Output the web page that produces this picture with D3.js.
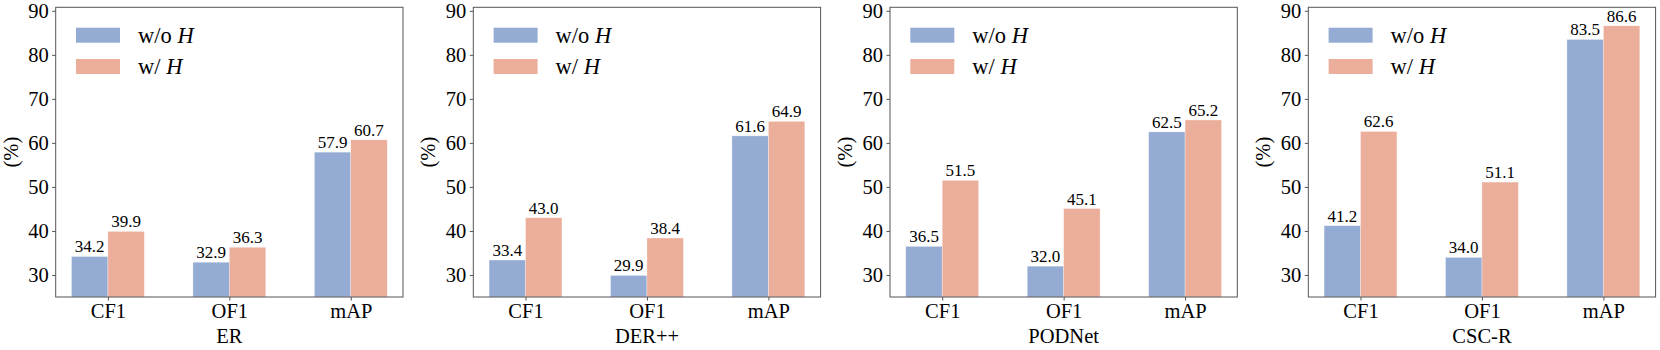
<!DOCTYPE html>
<html>
<head>
<meta charset="utf-8">
<script src="https://cdn.jsdelivr.net/npm/d3@7"></script>
<style>
  body { margin: 0; background: #fff; }
</style>
</head>
<body>
<div id="chart"></div>
<script>
const metrics = ["CF1", "OF1", "mAP"];
const methods = ["ER", "DER++", "PODNet", "CSC-R"];
const withoutH = [
  [34.2, 32.9, 57.9],
  [33.4, 29.9, 61.6],
  [36.5, 32.0, 62.5],
  [41.2, 34.0, 83.5]
];
const withH = [
  [39.9, 36.3, 60.7],
  [43.0, 38.4, 64.9],
  [51.5, 45.1, 65.2],
  [62.6, 51.1, 86.6]
];
const yTicks = [30, 40, 50, 60, 70, 80, 90];
const seriesNames = ["w/o ", "w/ "];
const colors = ["#94acd3", "#ebae9b"];
const serif = '"Liberation Serif", "Times New Roman", serif';

const svg = d3.select('#chart')
  .append('svg')
  .attr('width', 1660)
  .attr('height', 350)
  .style('font-family', serif);

const panelLeft = [55.7, 473.3, 890, 1308.3];
const panelW = 347.3;
const plotTop = 7.3, plotBottom = 297;

methods.forEach((name, p) => {
  const g = svg.append('g').attr('transform', `translate(${panelLeft[p]},0)`);

  // categories at 0,1,2, bar width 0.3, 5% margin like matplotlib
  const x = d3.scaleLinear().domain([-0.43, 2.43]).range([0, panelW]);
  const y = d3.scaleLinear().domain([25, 90.8]).range([plotBottom, plotTop]);
  const bw = x(0.3) - x(0);

  const series = [withoutH[p], withH[p]];
  series.forEach((vals, s) => {
    g.selectAll(null)
      .data(vals)
      .enter()
      .append('rect')
      .attr('x', (d, i) => x(i) + (s === 0 ? -bw : 0))
      .attr('y', d => y(d))
      .attr('width', bw)
      .attr('height', d => y(25) - y(d))
      .attr('fill', colors[s])
      .attr('stroke', '#fff')
      .attr('stroke-opacity', 0.5)
      .attr('stroke-width', 0.6);

    g.selectAll(null)
      .data(vals)
      .enter()
      .append('text')
      .attr('x', (d, i) => x(i) + (s === 0 ? -bw / 2 : bw / 2))
      .attr('y', d => y(d) - 4)
      .attr('text-anchor', 'middle')
      .style('font-family', serif)
      .style('font-size', '17px')
      .text(d => d.toFixed(1));
  });

  // frame
  g.append('rect')
    .attr('x', 0).attr('y', plotTop)
    .attr('width', panelW).attr('height', plotBottom - plotTop)
    .attr('fill', 'none')
    .attr('stroke', '#555')
    .attr('stroke-width', 1);

  // y axis
  const yAxis = g.append('g')
    .call(d3.axisLeft(y).tickValues(yTicks).tickSize(3.5).tickPadding(3.5));
  yAxis.select('.domain').remove();
  yAxis.selectAll('line').attr('stroke', '#555');
  yAxis.selectAll('text').style('font-family', serif).style('font-size', '20.5px').attr('fill', '#000');

  // x axis
  const xAxis = g.append('g')
    .attr('transform', `translate(0,${plotBottom})`)
    .call(d3.axisBottom(x).tickValues([0, 1, 2]).tickFormat(i => metrics[i]).tickSize(3.5).tickPadding(3));
  xAxis.select('.domain').remove();
  xAxis.selectAll('line').attr('stroke', '#555');
  xAxis.selectAll('text').style('font-family', serif).style('font-size', '20.5px').attr('fill', '#000');

  // method label under the axis
  g.append('text')
    .attr('x', panelW / 2)
    .attr('y', 343)
    .attr('text-anchor', 'middle')
    .style('font-size', '20.5px')
    .text(name);

  // y label
  g.append('text')
    .attr('transform', `translate(-38,${(plotTop + plotBottom) / 2}) rotate(-90)`)
    .attr('text-anchor', 'middle')
    .style('font-size', '20.5px')
    .text('(%)');

  // legend
  const lg = g.append('g').attr('transform', 'translate(20.3,27.7)');
  seriesNames.forEach((lab, s) => {
    lg.append('rect')
      .attr('x', 0).attr('y', s * 31.3)
      .attr('width', 44).attr('height', 15)
      .attr('fill', colors[s]);
    const t = lg.append('text')
      .attr('x', 62)
      .attr('y', s * 31.3 + 15)
      .style('font-size', '22.5px');
    t.append('tspan').text(lab);
    t.append('tspan').style('font-style', 'italic').text('H');
  });
});
</script>
</body>
</html>
